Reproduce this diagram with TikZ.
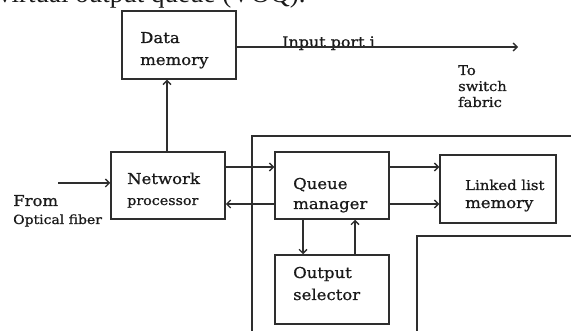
\documentclass[tikz,border=0pt]{standalone}
\usepackage{fontspec}
\setmainfont{Liberation Serif}
\newfontfamily\df[FakeStretch=1.1,FakeBold=0.9]{DejaVu Serif}
\usetikzlibrary{arrows.meta}
\definecolor{ln}{HTML}{2E2E2E}
\definecolor{tx}{HTML}{1A1A1A}
\tikzset{
  blk/.style={draw=ln, line width=1.5pt, inner sep=0pt},
  arr/.style={draw=ln, line width=1.3pt, -{Straight Barb[length=4pt,width=8pt,line width=1.3pt]}},
  wall/.style={draw=ln, line width=1.5pt},
  lbl/.style={anchor=base west, inner sep=0pt, text=tx, font=\df\fontsize{15}{17}\selectfont},
}
\begin{document}
\begin{tikzpicture}[x=1pt,y=-1pt]
\useasboundingbox (0,0) rectangle (571,331);
\clip (0,0) rectangle (571,331);
% cut-off caption line at the top
\node[anchor=base west, inner sep=0pt, text=tx, font=\fontsize{27}{30}\selectfont] (cap) at (-2,3) {virtual output queue (VOQ).};
% outer frames
\draw[wall] (252,345) -- (252,136) -- (585,136);
\draw[wall] (417,345) -- (417,236) -- (585,236);
% blocks
\node[blk, minimum width=114pt, minimum height=68pt] (DM) at (179,45) {};
\node[blk, minimum width=114pt, minimum height=67pt] (NP) at (168,185.5) {};
\node[blk, minimum width=114pt, minimum height=67pt] (QM) at (332,185.5) {};
\node[blk, minimum width=116pt, minimum height=68pt] (LL) at (498,189) {};
\node[blk, minimum width=114pt, minimum height=69pt] (OS) at (332,289.5) {};
% block texts
\node[lbl] (DMa) at (140,43) {Data};
\node[lbl] (DMb) at (140,65) {memory};
\node[lbl] (NPa) at (127,184) {Network};
\node[lbl, font=\df\fontsize{13}{15}\selectfont] (NPb) at (127,205) {processor};
\node[lbl] (QMa) at (293,189) {Queue};
\node[lbl] (QMb) at (293,209) {manager};
\node[lbl, font=\df\fontsize{13.5}{16}\selectfont] (LLa) at (465,190) {Linked list};
\node[lbl] (LLb) at (465,208) {memory};
\node[lbl] (OSa) at (293,278) {Output};
\node[lbl] (OSb) at (293,300) {selector};
% outside texts
\node[lbl] (from) at (13,206) {From};
\node[lbl, font=\df\fontsize{12.7}{14}\selectfont] (opt) at (13,224) {Optical fiber};
\node[lbl, font=\df\fontsize{14.5}{16}\selectfont] (inp) at (282,47) {Input port i};
\node[lbl, font=\df\fontsize{13.4}{15}\selectfont] (to1) at (458,75) {To};
\node[lbl, font=\df\fontsize{13.4}{15}\selectfont] (to2) at (458,91) {switch};
\node[lbl, font=\df\fontsize{13.4}{15}\selectfont] (to3) at (458,107) {fabric};
% connectors
\coordinate (fib) at (58,183);
\coordinate (sw) at (518,47);
\draw[arr] (fib) -- (fib -| NP.west);
\draw[arr] ([xshift=-1pt]NP.north) coordinate (u) -- (u |- DM.south);
\draw[arr] (DM.east |- sw) -- (sw);
\draw[arr] ([yshift=18.5pt]NP.east) coordinate (a1) -- (a1 -| QM.west);
\draw[arr] ([yshift=-18.5pt]QM.west) coordinate (a2) -- (a2 -| NP.east);
\draw[arr] ([yshift=18.5pt]QM.east) coordinate (a3) -- (a3 -| LL.west);
\draw[arr] ([yshift=-18.5pt]QM.east) coordinate (a4) -- (a4 -| LL.west);
\draw[arr] ([xshift=-29pt]QM.south) coordinate (a5) -- (a5 |- OS.north);
\draw[arr] ([xshift=23pt]OS.north) coordinate (a6) -- (a6 |- QM.south);
\end{tikzpicture}
\end{document}
